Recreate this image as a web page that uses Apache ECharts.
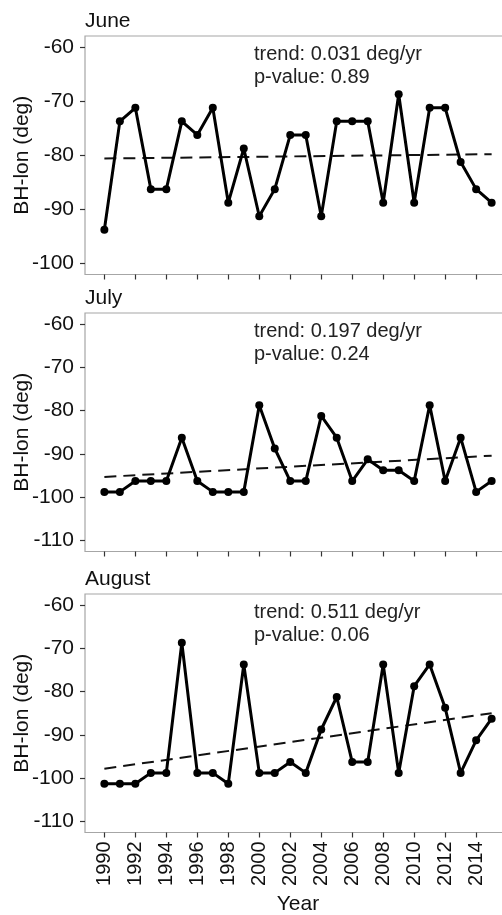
<!DOCTYPE html>
<html lang="en">
<head>
    <meta charset="UTF-8">
    <script src="https://cdn.jsdelivr.net/npm/echarts@6/dist/echarts.min.js"></script>
    <title>BH-lon</title>
    <style>
        body { margin: 0; background: #fff; }
    </style>
</head>
<body>
    <div id="main" style="width: 502px;height:915px;"></div>
</body>
</html>
<script type="text/javascript">
    // data
    var years = [];
    for (var y = 1990; y <= 2015; y++) years.push(y);
    var yearTicks = [1990, 1992, 1994, 1996, 1998, 2000, 2002, 2004, 2006, 2008, 2010, 2012, 2014];

    var months = ['June', 'July', 'August'];
    var june = [-93.75, -73.75, -71.25, -86.25, -86.25, -73.75, -76.25, -71.25, -88.75, -78.75, -91.25, -86.25, -76.25,
        -76.25, -91.25, -73.75, -73.75, -73.75, -88.75, -68.75, -88.75, -71.25, -71.25, -81.25, -86.25, -88.75];
    var july = [-98.75, -98.75, -96.25, -96.25, -96.25, -86.25, -96.25, -98.75, -98.75, -98.75, -78.75, -88.75, -96.25,
        -96.25, -81.25, -86.25, -96.25, -91.25, -93.75, -93.75, -96.25, -78.75, -96.25, -86.25, -98.75, -96.25];
    var august = [-101.25, -101.25, -101.25, -98.75, -98.75, -68.75, -98.75, -98.75, -101.25, -73.75, -98.75, -98.75, -96.25,
        -98.75, -88.75, -81.25, -96.25, -96.25, -73.75, -98.75, -78.75, -73.75, -83.75, -98.75, -91.25, -86.25];

    // trend line value at 1990 and 2015
    var juneTrend = [-80.6, -79.8];
    var julyTrend = [-95.3, -90.4];
    var augustTrend = [-97.8, -85.0];

    var trendText = ['trend: 0.031 deg/yr', 'trend: 0.197 deg/yr', 'trend: 0.511 deg/yr'];
    var pText = ['p-value: 0.89', 'p-value: 0.24', 'p-value: 0.06'];

    var yTicks = [
        [-100, -90, -80, -70, -60],
        [-110, -100, -90, -80, -70, -60],
        [-110, -100, -90, -80, -70, -60]
    ];
    var yRange = [[-102, -58], [-112.5, -57.5], [-112.5, -57.5]];

    var allData = [june, july, august];
    var allTrend = [juneTrend, julyTrend, augustTrend];

    var font = 'Liberation Sans, Arial, sans-serif';
    var gridTops = [36, 313, 594];
    var gridH = 238.5;

    var chart = echarts.init(document.getElementById('main'));

    var grids = [], xAxes = [], yAxes = [], series = [], graphics = [];
    for (var i = 0; i < 3; i++) {
        grids.push({
            left: 85, top: gridTops[i], width: 426, height: gridH,
            show: true, borderColor: '#a6a6a6', borderWidth: 1.2,
            outerBoundsMode: 'none', containLabel: false
        });
        xAxes.push({
            type: 'value', gridIndex: i, min: 1988.75, max: 2016.25,
            axisLine: { show: false },
            splitLine: { show: false },
            axisTick: { show: true, length: 5, customValues: yearTicks, lineStyle: { color: '#333', width: 1.2 } },
            axisLabel: {
                show: i === 2, customValues: yearTicks, rotate: 90, margin: 9,
                color: '#111', fontSize: 20, fontFamily: font,
                formatter: function (v) { return String(v); }
            }
        });
        yAxes.push({
            type: 'value', gridIndex: i, min: yRange[i][0], max: yRange[i][1],
            axisLine: { show: false },
            splitLine: { show: false },
            axisTick: { show: true, length: 5, customValues: yTicks[i], lineStyle: { color: '#333', width: 1.2 } },
            axisLabel: {
                customValues: yTicks[i], margin: 11,
                color: '#111', fontSize: 21, fontFamily: font
            }
        });

        var pts = years.map(function (yr, k) { return [yr, allData[i][k]]; });
        series.push({
            type: 'line', xAxisIndex: i, yAxisIndex: i, data: pts,
            symbol: 'circle', symbolSize: 8, showSymbol: true,
            lineStyle: { color: '#000', width: 3 },
            itemStyle: { color: '#000' },
            z: 3
        });
        series.push({
            type: 'line', xAxisIndex: i, yAxisIndex: i,
            data: [[years[0], allTrend[i][0]], [years[years.length - 1], allTrend[i][1]]],
            symbol: 'none',
            lineStyle: { color: '#111', width: 2, type: [12, 7] },
            z: 2
        });

        graphics.push({
            type: 'text', left: 85, top: gridTops[i] - 25,
            style: { text: months[i], fill: '#111', font: '21px ' + font }
        });
        graphics.push({
            type: 'text', left: 254, top: gridTops[i] + 7,
            style: { text: trendText[i] + '\n' + pText[i], fill: '#222', font: '20px ' + font, lineHeight: 23 }
        });
        graphics.push({
            type: 'text', x: 22, y: gridTops[i] + gridH / 2, rotation: Math.PI / 2,
            style: { text: 'BH-lon (deg)', fill: '#111', font: '21px ' + font, align: 'center', verticalAlign: 'middle' }
        });
    }
    graphics.push({
        type: 'text', x: 298, y: 904,
        style: { text: 'Year', fill: '#111', font: '21px ' + font, align: 'center', verticalAlign: 'middle' }
    });

    chart.setOption({
        animation: false,
        grid: grids,
        xAxis: xAxes,
        yAxis: yAxes,
        series: series,
        graphic: graphics
    });
</script>
